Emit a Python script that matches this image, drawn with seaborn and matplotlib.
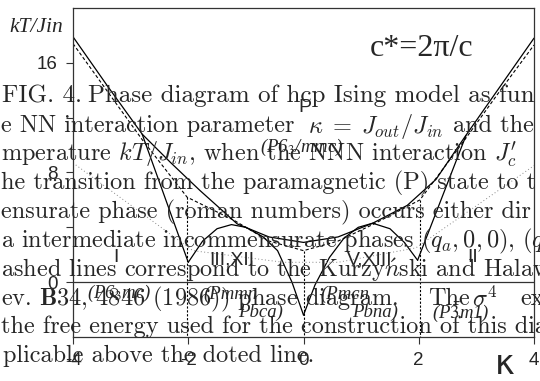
import numpy as np
import pandas as pd
import seaborn as sns
import matplotlib.pyplot as plt

# Diagrama de fases (kappa = Jout/Jin, kT/Jin)

# frontera P -> fases conmensuradas (linea continua)
p_kappa = [-4.0, -3.4, -2.8, -2.3, -1.8, -1.15, -0.6, 0.0, 0.6, 1.2, 1.8, 2.3, 2.8, 3.4, 4.0]
p_temp = [17.9, 14.3, 10.8, 8.7, 6.7, 4.25, 3.3, 2.9, 3.3, 4.3, 5.6, 7.5, 10.6, 14.2, 17.8]

# lineas empinadas hacia las fases I y II
left_kappa = [-2.8, -2.0]
left_temp = [10.8, 1.45]
right_kappa = [2.82, 1.98]
right_temp = [10.7, 1.6]

# arcos de las fases III,XII y V,XIII
arch_l_kappa = [-2.0, -1.75, -1.5, -1.25, -1.0, -0.7, -0.45, -0.2, 0.0]
arch_l_temp = [1.45, 3.0, 3.9, 4.2, 4.0, 3.3, 2.3, 0.0, -2.4]
arch_r_kappa = [0.0, 0.2, 0.45, 0.7, 0.95, 1.2, 1.5, 1.75, 1.98]
arch_r_temp = [-2.4, -0.2, 1.8, 3.2, 4.0, 4.3, 3.9, 2.9, 1.6]

# diagrama de Kurzynski y Halawa (discontinua)
k_kappa = [-4.0, -3.4, -2.8, -2.02, -1.2, -0.6, 0.0, 0.6, 1.2, 2.02, 2.8, 3.4, 4.0]
k_temp = [17.4, 13.9, 10.4, 6.2, 4.5, 3.0, 2.3, 3.0, 4.2, 6.0, 10.4, 13.9, 17.3]
vert_kappa = [-2.02, 0.0, 2.02]
vert_top = [6.2, 2.3, 6.0]

# linea punteada (validez del desarrollo sigma^4)
d_kappa = [-4.0, -1.92, -0.35, 0.6, 1.95, 4.0]
d_temp = [8.7, 2.3, 1.45, 1.45, 2.5, 8.5]

x_ticks = [-4, -2, 0, 2, 4]
y_ticks = [0, 8, 16]

# pie de figura: (x inicial en px, texto)
caption = [
    [(2, r"FIG. 4."), (88, r"Phase diagram of hcp Ising model as fun")],
    [(1, r"e NN interaction parameter"), (308, r"$\kappa\;=\;J_{out}/J_{in}$"),
     (453, r"and the")],
    [(1, r"mperature $kT/J_{in}$, when the NNN interaction $J_c'$")],
    [(1, r"he transition from the paramagnetic (P) state to t")],
    [(1, r"ensurate phase (roman numbers) occurs either dir")],
    [(1, r"a intermediate incommensurate phases $(q_a, 0, 0)$, $(q$")],
    [(1, r"ashed lines correspond to the Kurzy$\acute{n}$ski and Halaw")],
    [(1, r"ev. $\mathbf{B34}$, 4846 (1986)) phase diagram."), (428, r"The"),
     (472, r"$\sigma^4$"), (520, r"ex")],
    [(1, r"the free energy used for the construction of this dia")],
    [(3, r"plicable above the doted line.")],
]
caption_y = [96, 126, 154, 183, 212, 241, 270, 299, 327, 356]
caption_size = [18, 17.5, 17.5, 17.5, 17.5, 17.5, 17.5, 17.5, 17.5, 17.5]

sns.set_style("ticks")
plt.rcParams["axes.unicode_minus"] = False
plt.rcParams["mathtext.fontset"] = "cm"

fig = plt.figure(figsize=(5.4, 3.81), dpi=100)
ax = fig.add_axes([73 / 540, 1 - 337 / 381, 461 / 540, 329 / 381])

def curve(xs, ys, **kw):
    sns.lineplot(x=xs, y=ys, sort=False, estimator=None, ax=ax, color="black", **kw)

curve(p_kappa, p_temp, lw=0.9)
curve(left_kappa, left_temp, lw=0.9)
curve(right_kappa, right_temp, lw=0.9)
curve(arch_l_kappa, arch_l_temp, lw=0.9)
curve(arch_r_kappa, arch_r_temp, lw=0.9)
curve(k_kappa, k_temp, lw=0.8, dashes=(3, 2))
for xv, top in zip(vert_kappa, vert_top):
    curve([xv, xv], [top, -4.0], lw=0.8, dashes=(2, 1.5))
sns.lineplot(x=d_kappa, y=d_temp, sort=False, estimator=None, ax=ax,
             color="#888888", lw=0.7, dashes=(1, 2.5))
ax.axhline(0, color="#333333", lw=0.9)

ax.set_xlim(-4, 4)
ax.set_ylim(-4, 20)
ax.set_xticks(x_ticks)
ax.set_yticks(y_ticks)
ax.set_yticks([4, 12], minor=True)
ax.tick_params(which="both", direction="out", length=5, width=0.8, color="#333333",
               labelsize=13.5, pad=6)
for lab in ax.get_xticklabels() + ax.get_yticklabels():
    lab.set_family("Liberation Sans")
for s in ax.spines.values():
    s.set_visible(True)
    s.set_linewidth(0.9)
    s.set_color("#333333")
ax.set_xlabel("")
ax.set_ylabel("")

def px(x, y, s, **kw):
    fig.text(x / 540, 1 - y / 381, s, **kw)

px(36, 27, "kT/Jin", family="Liberation Serif", style="italic", fontsize=15.5,
   ha="center", va="center")
px(422, 48, "c*=2\u03c0/c", family="Liberation Serif", fontsize=23,
   ha="center", va="center")
px(505, 365, "\u03ba", family="DejaVu Sans", fontsize=24, ha="center", va="center")

# etiquetas de fases
sans = dict(family="Liberation Sans", fontsize=14, ha="center", va="center")
px(305, 107, "P", **sans)
px(116, 258, "I", **sans)
px(232, 260, "III,XII", **sans)
px(370, 260, "V,XIII", **sans)
px(473, 258, "II", **sans)

ital = dict(family="Liberation Serif", style="italic", fontsize=13.5, va="center",
            math_fontfamily="stix")
px(302, 147, r"(P6$_3$/mmc)", ha="center", **ital)
px(119, 293, r"(P6$_3$mc)", ha="center", **ital)
px(203, 294, r"(Pmmn", ha="left", **ital)
px(261, 312, r"Pbca)", ha="center", **ital)
px(320, 294, r"(Pmcn", ha="left", **ital)
px(375, 312, r"Pbna)", ha="center", **ital)
px(461, 312, r"(P$\bar{3}$m1)", ha="center", **ital)

# texto del pie de figura superpuesto
for parts, yy, size in zip(caption, caption_y, caption_size):
    for x0, line in parts:
        px(x0, yy, line, family="cmr10", fontsize=size, ha="left", va="center")

fig.savefig("out.png", dpi=100)
